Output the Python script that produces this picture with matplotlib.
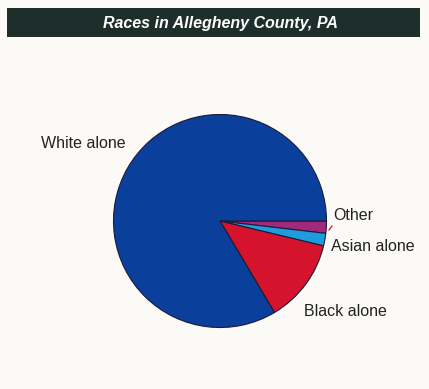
import matplotlib.pyplot as plt
from matplotlib.patches import Rectangle

plt.rcParams['font.family'] = ['Liberation Sans', 'DejaVu Sans']

# race shares (%), drawn clockwise from 3 o'clock
races = ['Other', 'Asian alone', 'Black alone', 'White alone']
shares = [1.85, 1.9, 12.7, 83.55]
colors = ['#a02a7e', '#1f9ce0', '#d6132c', '#0b3f9c']

W, H = 429, 389
fig = plt.figure(figsize=(W / 100, H / 100), dpi=100, facecolor='#fbfaf6')
ax = fig.add_axes([0, 0, 1, 1])

# title bar
ax.add_patch(Rectangle((7, H - 37), 413, 29, facecolor='#1e2f2b', edgecolor='none'))
ax.text(220, H - 23, 'Races in Allegheny County, PA', color='white',
        fontsize=11.5, fontweight='bold', fontstyle='italic',
        ha='center', va='center')

wedges, _ = ax.pie(shares, colors=colors, startangle=0, counterclock=False,
                   center=(220, H - 221), radius=106.5, frame=True,
                   wedgeprops=dict(edgecolor='#1b1b35', linewidth=0.8))
ax.set_xlim(0, W)
ax.set_ylim(0, H)
ax.set_aspect('equal')
ax.axis('off')

lbl = dict(fontsize=11.5, color='#222222', va='center')
ax.text(83, H - 143, races[3], ha='center', **lbl)
ax.text(333, H - 215, races[0], ha='left', **lbl)
ax.plot([329, 332], [H - 230, H - 226], color='#d6132c', lw=0.9)  # short leader
ax.text(331, H - 246, races[1], ha='left', **lbl)
ax.text(304, H - 312, races[2], ha='left', **lbl)

fig.savefig('out.png', dpi=100, facecolor=fig.get_facecolor())
